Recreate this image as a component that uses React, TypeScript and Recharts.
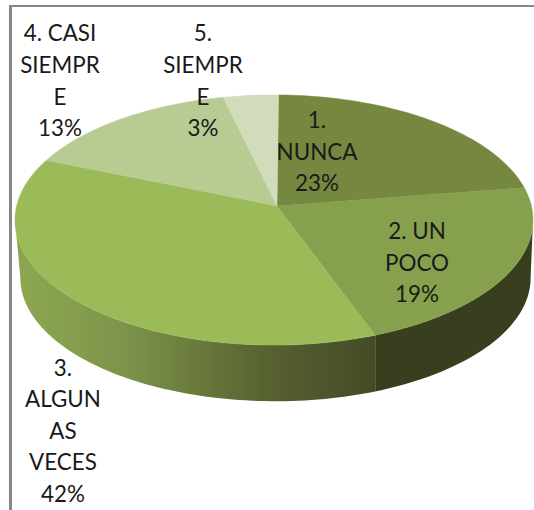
import React from "react";
import { PieChart, Pie } from "recharts";

const categories = ["1. NUNCA", "2. UN POCO", "3. ALGUNAS VECES", "4. CASI SIEMPRE", "5. SIEMPRE"];
const percents = [23, 19, 42, 13, 3];
const labelLines = [["1.", "NUNCA"], ["2. UN", "POCO"], ["3.", "ALGUN", "AS", "VECES"], ["4. CASI", "SIEMPR", "E"], ["5.", "SIEMPR", "E"]];
const topColors = ["#76873f", "#87a04e", "#9bbb59", "#b7cb93", "#d1dcbb"];

const data = categories.map((name, i) => ({ name, value: percents[i] }));

// label centres
const labelCenters = [
  [317, 152],
  [417, 263],
  [63, 431],
  [60, 81],
  [203, 81],
];

// Excel's perspective squeezes the slices unevenly, so pie angle -> angle on the drawn ellipse
const pieAngles = [0, 82.8, 151.2, 302.4, 349.2, 360];
const drawnAngles = [1, 75, 157, 298.5, 348.7, 361];

const TILT = 0.483;
const APEX = { x: 277, y: 206 };
const BOTTOM = { dx: 1.5, dy: 58, shrink: 0.985 };

const rad = (deg: number) => (deg * Math.PI) / 180;

function toDrawn(angle: number) {
  for (let i = 1; i < pieAngles.length; i++) {
    if (angle <= pieAngles[i] + 0.001) {
      const t = (angle - pieAngles[i - 1]) / (pieAngles[i] - pieAngles[i - 1]);
      return drawnAngles[i - 1] + t * (drawnAngles[i] - drawnAngles[i - 1]);
    }
  }
  return drawnAngles[drawnAngles.length - 1];
}

function arcPoints(from: number, to: number, fn: (deg: number) => string) {
  const out: string[] = [];
  const steps = Math.max(2, Math.ceil(Math.abs(to - from) / 1.5));
  for (let i = 0; i <= steps; i++) out.push(fn(from + ((to - from) * i) / steps));
  return out;
}

const Slice3D = (props: any) => {
  const { cx, cy, outerRadius, startAngle, endAngle, index, fill } = props;
  const rx = outerRadius;
  const ry = outerRadius * TILT;
  const a = toDrawn(90 - startAngle);
  const b = toDrawn(90 - endAngle);

  const top = (deg: number) => `${cx + rx * Math.sin(rad(deg))},${cy - ry * Math.cos(rad(deg))}`;
  const low = (deg: number) =>
    `${cx + BOTTOM.dx + rx * BOTTOM.shrink * Math.sin(rad(deg))},${cy + BOTTOM.dy - ry * BOTTOM.shrink * Math.cos(rad(deg))}`;

  const wallFrom = Math.max(a, 90);
  const wallTo = Math.min(b, 270);
  const hasWall = wallFrom < wallTo;
  const wallId = `wall-${index}`;

  return (
    <g>
      {hasWall && (
        <>
          <defs>
            {index === 2 ? (
              <linearGradient id={wallId} gradientUnits="userSpaceOnUse" x1={20} x2={373} y1={0} y2={0}>
                <stop offset="0" stopColor="#8ca650" />
                <stop offset="0.12" stopColor="#87a04e" />
                <stop offset="0.32" stopColor="#7b9149" />
                <stop offset="0.5" stopColor="#6a7a3c" />
                <stop offset="0.72" stopColor="#555f30" />
                <stop offset="1" stopColor="#444c27" />
              </linearGradient>
            ) : (
              <linearGradient id={wallId}>
                <stop offset="0" stopColor="#383f1f" />
                <stop offset="1" stopColor="#383f1f" />
              </linearGradient>
            )}
          </defs>
          <polygon
            points={[...arcPoints(wallFrom, wallTo, top), ...arcPoints(wallTo, wallFrom, low)].join(" ")}
            fill={`url(#${wallId})`}
          />
        </>
      )}
      <polygon
        points={[`${APEX.x},${APEX.y}`, ...arcPoints(a, b, top)].join(" ")}
        fill={fill}
        stroke={fill}
        strokeWidth={0.5}
      />
    </g>
  );
};

const SliceLabel = (props: any) => {
  const { index, value } = props;
  const lines = [...labelLines[index], `${value}%`];
  const [x, y] = labelCenters[index];
  const lineHeight = 31.6;
  const startY = y - ((lines.length - 1) * lineHeight) / 2;
  return (
    <text x={x} y={startY} textAnchor="middle" fontFamily="Lato" fontSize={22.4} fill="#1a1a1a">
      {lines.map((line, i) => (
        <tspan key={i} x={x} y={startY + i * lineHeight} dy="0.35em">
          {line}
        </tspan>
      ))}
    </text>
  );
};

const App = () => {
  const colored = data.map((d, i) => ({ ...d, fill: topColors[i] }));
  return (
    <div style={{ position: "fixed", left: 0, top: 0, width: 534, height: 510, overflow: "hidden", background: "#fff" }}>
      <div
        style={{
          position: "absolute",
          left: 9,
          top: 5,
          width: 560,
          height: 560,
          borderLeft: "3px solid #868686",
          borderTop: "2px solid #868686",
        }}
      />
      <div style={{ position: "absolute", left: 0, top: 0 }}>
        <PieChart width={534} height={510} margin={{ top: 0, right: 0, bottom: 0, left: 0 }}>
          <Pie
            data={colored}
            dataKey="value"
            nameKey="name"
            cx={274}
            cy={220}
            outerRadius={259}
            startAngle={90}
            endAngle={-270}
            paddingAngle={0}
            shape={Slice3D}
            label={SliceLabel}
            labelLine={false}
            isAnimationActive={false}
          />
        </PieChart>
      </div>
    </div>
  );
};

export default App;
